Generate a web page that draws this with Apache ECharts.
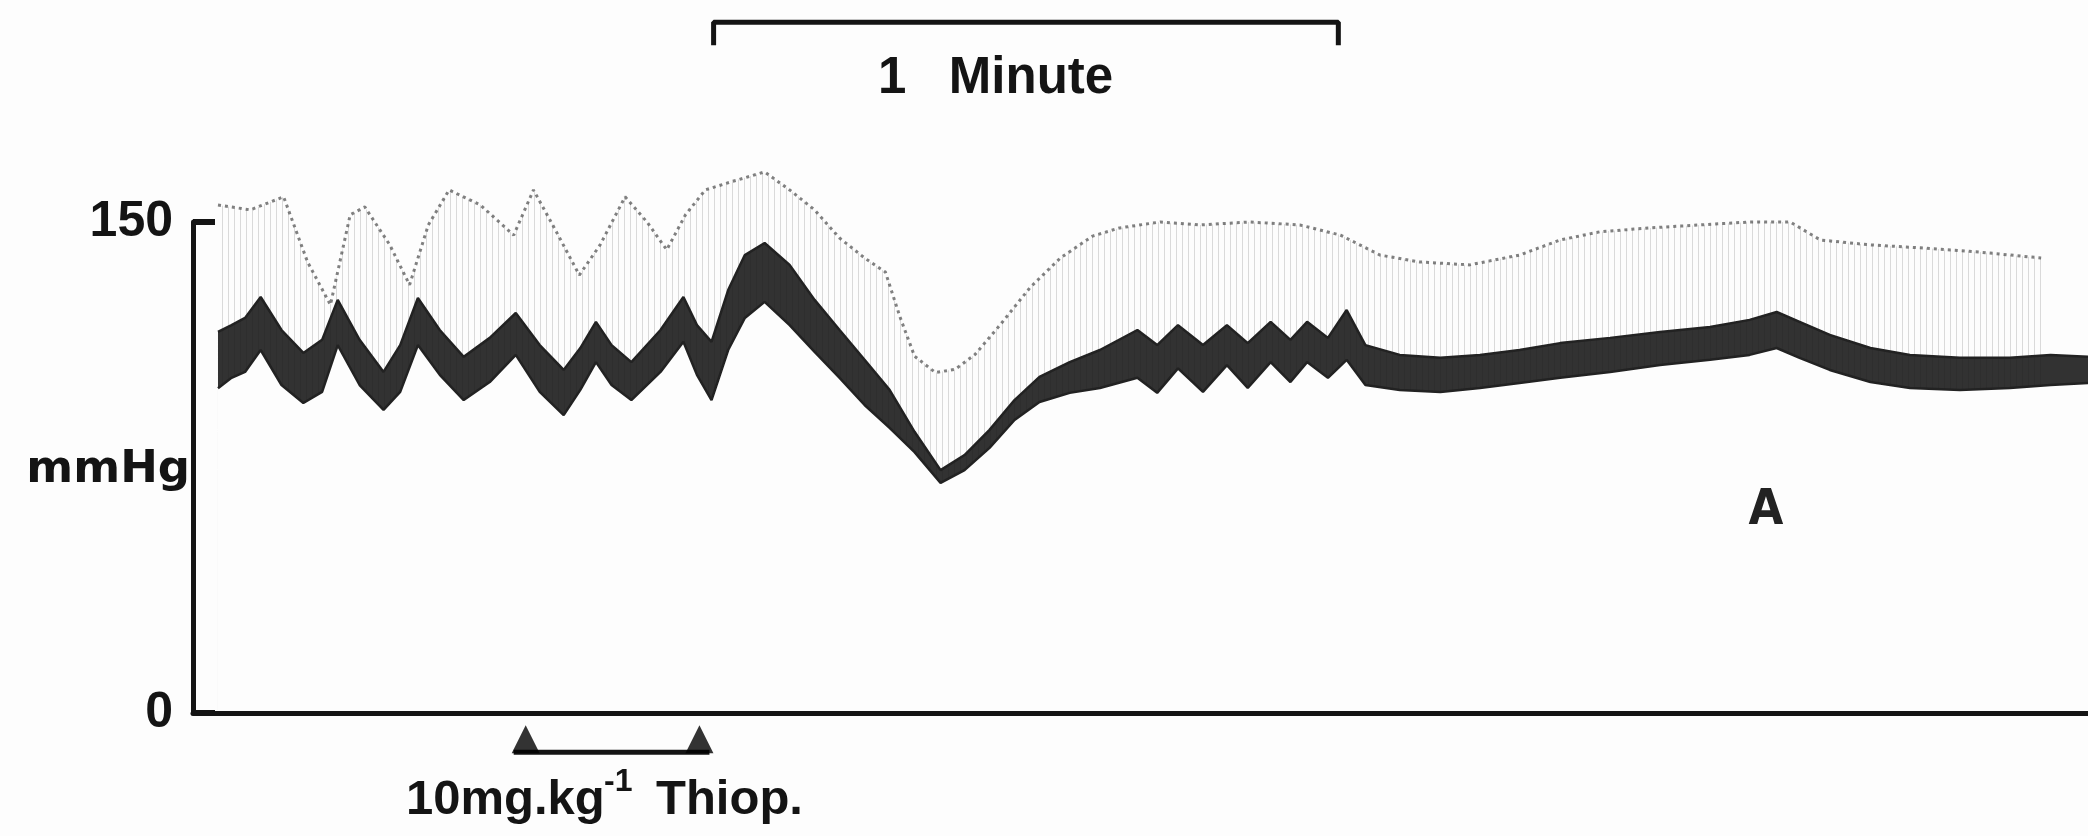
<!DOCTYPE html>
<html>
<head>
<meta charset="utf-8">
<script src="https://cdn.jsdelivr.net/npm/echarts@6/dist/echarts.min.js"></script>
<style>
  html, body { margin: 0; padding: 0; background: #fdfdfd; }
  #chart { width: 2088px; height: 836px; }
</style>
</head>
<body>
<div id="chart"></div>
<script>
// arterial pressure trace, time in seconds, pressure in mmHg
const bandTime = [2.4, 3.7, 5.0, 6.5, 8.5, 10.6, 12.4, 13.9, 16.0, 18.3,
  19.9, 21.6, 23.7, 26.0, 28.5, 31.0, 33.3, 35.6, 37.2, 38.7,
  40.2, 42.1, 44.9, 47.1, 48.4, 49.8, 51.4, 53.0, 54.9, 57.3,
  59.7, 62.1, 64.5, 66.9, 69.3, 71.8, 74.1, 76.5, 78.9, 81.3,
  84.2, 87.1, 90.7, 92.6, 94.6, 97.0, 99.3, 101.3, 103.5, 105.4,
  107.0, 109.0, 110.8, 112.6, 115.9, 119.8, 123.6, 127.4, 131.3, 136.1,
  140.9, 145.7, 149.5, 152.1, 154.3, 157.2, 161.1, 164.9, 169.7, 174.5,
  178.4, 182];
const bandTop = [116.4, 118.5, 120.7, 127.1, 117.0, 110.0, 114.0, 126.2, 114.0, 104.2,
  112.4, 126.8, 117.0, 108.8, 114.6, 122.2, 112.4, 104.8, 111.5, 119.5,
  112.4, 107.2, 117.0, 127.1, 118.5, 113.4, 129.2, 139.9, 143.6, 136.9,
  126.2, 117.0, 107.9, 98.7, 85.9, 74.2, 78.8, 86.5, 95.6, 102.7,
  107.2, 110.9, 117.0, 112.4, 118.5, 112.4, 118.5, 113.0, 119.5, 114.0,
  119.5, 114.6, 123.1, 112.4, 109.4, 108.5, 109.4, 110.9, 113.0, 114.6,
  116.4, 117.9, 120.1, 122.5, 119.5, 115.5, 111.5, 109.4, 108.5, 108.5,
  109.4, 108.8];
const bandBottom = [99.2, 102.4, 104.2, 110.9, 100.2, 94.7, 98.1, 112.4, 100.2, 92.6,
  98.1, 112.4, 103.3, 95.6, 101.1, 109.4, 98.1, 91.0, 98.7, 107.2,
  100.2, 95.6, 104.2, 113.4, 103.3, 95.6, 110.9, 120.7, 125.6, 118.5,
  110.3, 102.4, 94.1, 87.1, 79.7, 70.3, 74.2, 81.0, 89.5, 95.0,
  97.8, 99.3, 102.4, 97.8, 105.3, 98.1, 106.3, 99.3, 107.2, 101.1,
  107.2, 102.4, 107.9, 100.2, 98.7, 98.1, 99.3, 100.8, 102.4, 104.2,
  106.3, 107.9, 109.4, 111.5, 108.5, 104.8, 101.1, 99.3, 98.7, 99.3,
  100.2, 100.8];

// faint systolic peaks above the band
const sysTime = [2.4, 5.5, 8.7, 11.0, 13.2, 15.1, 16.5, 18.9, 20.8, 22.6,
  24.6, 27.6, 30.8, 32.7, 34.8, 37.1, 39.1, 41.5, 43.6, 45.5,
  47.3, 49.2, 51.6, 54.9, 57.3, 59.7, 62.1, 64.5, 66.5, 67.9,
  69.3, 71.3, 73.2, 75.1, 77.5, 80.4, 83.3, 86.4, 89.0, 92.9,
  96.7, 101.5, 106.3, 110.2, 114.0, 117.8, 122.6, 127.4, 131.3, 135.1,
  139.9, 144.7, 149.5, 153.4, 156.3, 161.1, 165.9, 171.6, 177.5];
const systolic = [155.2, 153.7, 157.7, 137.8, 124.7, 152.2, 154.6, 143.0, 130.8, 149.1,
  159.8, 155.2, 146.0, 159.8, 147.6, 133.8, 143.0, 157.7, 150.0, 141.5,
  152.2, 159.8, 162.2, 165.3, 159.8, 153.7, 145.1, 139.0, 134.7, 121.0,
  109.0, 104.0, 105.0, 109.5, 118.5, 130.0, 139.0, 145.7, 148.2, 150.0,
  149.1, 150.0, 149.1, 146.0, 139.9, 137.8, 136.9, 139.9, 144.5, 147.0,
  148.2, 149.1, 150.0, 150.0, 144.5, 143.0, 142.1, 140.8, 139.0];

const minuteBracket = [50, 110]; // 1 minute time mark
const thiopBracket = [30.8, 49.6]; // injection period
const yTicks = [0, 150];

const INK = '#141414';
const PAPER = '#fdfdfd';
const SANS = "'Liberation Sans', Arial, sans-serif";

function pairs(xs, ys) {
  return xs.map((x, idx) => [x, ys[idx]]);
}

// vertical pen strokes for the region swept by each beat
function strokePattern(color, step) {
  const c = document.createElement('canvas');
  c.width = step;
  c.height = 4;
  const ctx = c.getContext('2d');
  ctx.fillStyle = color;
  ctx.fillRect(0, 0, 1, 4);
  return c;
}

function label(text, x, y, size, extra) {
  return {
    type: 'text',
    x,
    y,
    z: 100,
    style: {
      text,
      fontFamily: SANS,
      fontWeight: 'bold',
      fontSize: size,
      fill: INK,
      textAlign: 'left',
      textVerticalAlign: 'middle',
      ...extra,
    },
  };
}

const chart = echarts.init(document.getElementById('chart'));

const topLevel = 211;
const topTickEnd = 204;
const bottomLevel = -12;

const option = {
  backgroundColor: PAPER,
  animation: false,
  grid: { left: 193, right: 0, top: 222, bottom: 123 },
  xAxis: {
    type: 'value',
    min: 0,
    max: 182,
    z: 10,
    axisLine: { lineStyle: { color: INK, width: 5 } },
    axisTick: { show: false },
    axisLabel: { show: false },
    splitLine: { show: false },
  },
  yAxis: {
    type: 'value',
    min: yTicks[0],
    max: yTicks[1],
    interval: yTicks[1] - yTicks[0],
    z: 10,
    axisLine: { show: true, lineStyle: { color: INK, width: 5 } },
    axisTick: { show: true, inside: true, length: 22, lineStyle: { color: INK, width: 6 } },
    axisLabel: {
      margin: 20,
      color: INK,
      fontFamily: SANS,
      fontWeight: 'bold',
      fontSize: 50,
    },
    splitLine: { show: false },
  },
  series: [
    {
      name: 'systolic',
      type: 'line',
      data: pairs(sysTime, systolic),
      symbol: 'none',
      clip: false,
      z: 2,
      lineStyle: { color: '#555', width: 3, type: [3, 4], opacity: 0.75 },
      areaStyle: {
        origin: 'start',
        color: { image: strokePattern('rgba(0,0,0,0.2)', 6), repeat: 'repeat' },
      },
    },
    {
      name: 'band top',
      type: 'line',
      data: pairs(bandTime, bandTop),
      symbol: 'none',
      clip: false,
      z: 3,
      lineStyle: { color: '#222', width: 2.5 },
      areaStyle: { origin: 'start', color: 'rgba(22,22,22,0.88)', opacity: 1 },
    },
    {
      name: 'band bottom',
      type: 'line',
      data: pairs(bandTime, bandBottom),
      symbol: 'none',
      clip: false,
      z: 4,
      lineStyle: { color: '#222', width: 2.5 },
      areaStyle: { origin: 'start', color: PAPER, opacity: 1 },
    },
    {
      name: 'minute',
      type: 'line',
      data: [
        [minuteBracket[0], topTickEnd], [minuteBracket[0], topLevel],
        [minuteBracket[1], topLevel], [minuteBracket[1], topTickEnd],
      ],
      symbol: 'none',
      clip: false,
      z: 5,
      lineStyle: { color: INK, width: 5 },
    },
    {
      name: 'thiopental',
      type: 'line',
      data: thiopBracket.map((t) => [t, bottomLevel]),
      symbol: 'none',
      clip: false,
      z: 5,
      lineStyle: { color: INK, width: 5 },
    },
    {
      name: 'thiopental marks',
      type: 'scatter',
      data: thiopBracket.map((t, idx) => ({
        value: [t, bottomLevel],
        symbolOffset: [idx === 0 ? 12 : -10, -13],
      })),
      symbol: 'triangle',
      symbolSize: [28, 28],
      clip: false,
      z: 5,
      itemStyle: { color: '#000' },
    },
  ],
  graphic: [
    label('1   Minute', 878, 79, 51),
    label('mmHg', 190, 470, 45, { fontFamily: "'DejaVu Sans', sans-serif", textAlign: 'right' }),
    label('10mg.kg', 406, 800, 49),
    label('-1', 604, 782, 32),
    label('Thiop.', 656, 800, 49),
    label('A', 1766, 511, 50, {
      fontFamily: "'DejaVu Sans Condensed', 'Liberation Sans', sans-serif",
      textAlign: 'center',
      fill: '#222',
    }),
  ],
};

chart.setOption(option);
</script>
</body>
</html>
